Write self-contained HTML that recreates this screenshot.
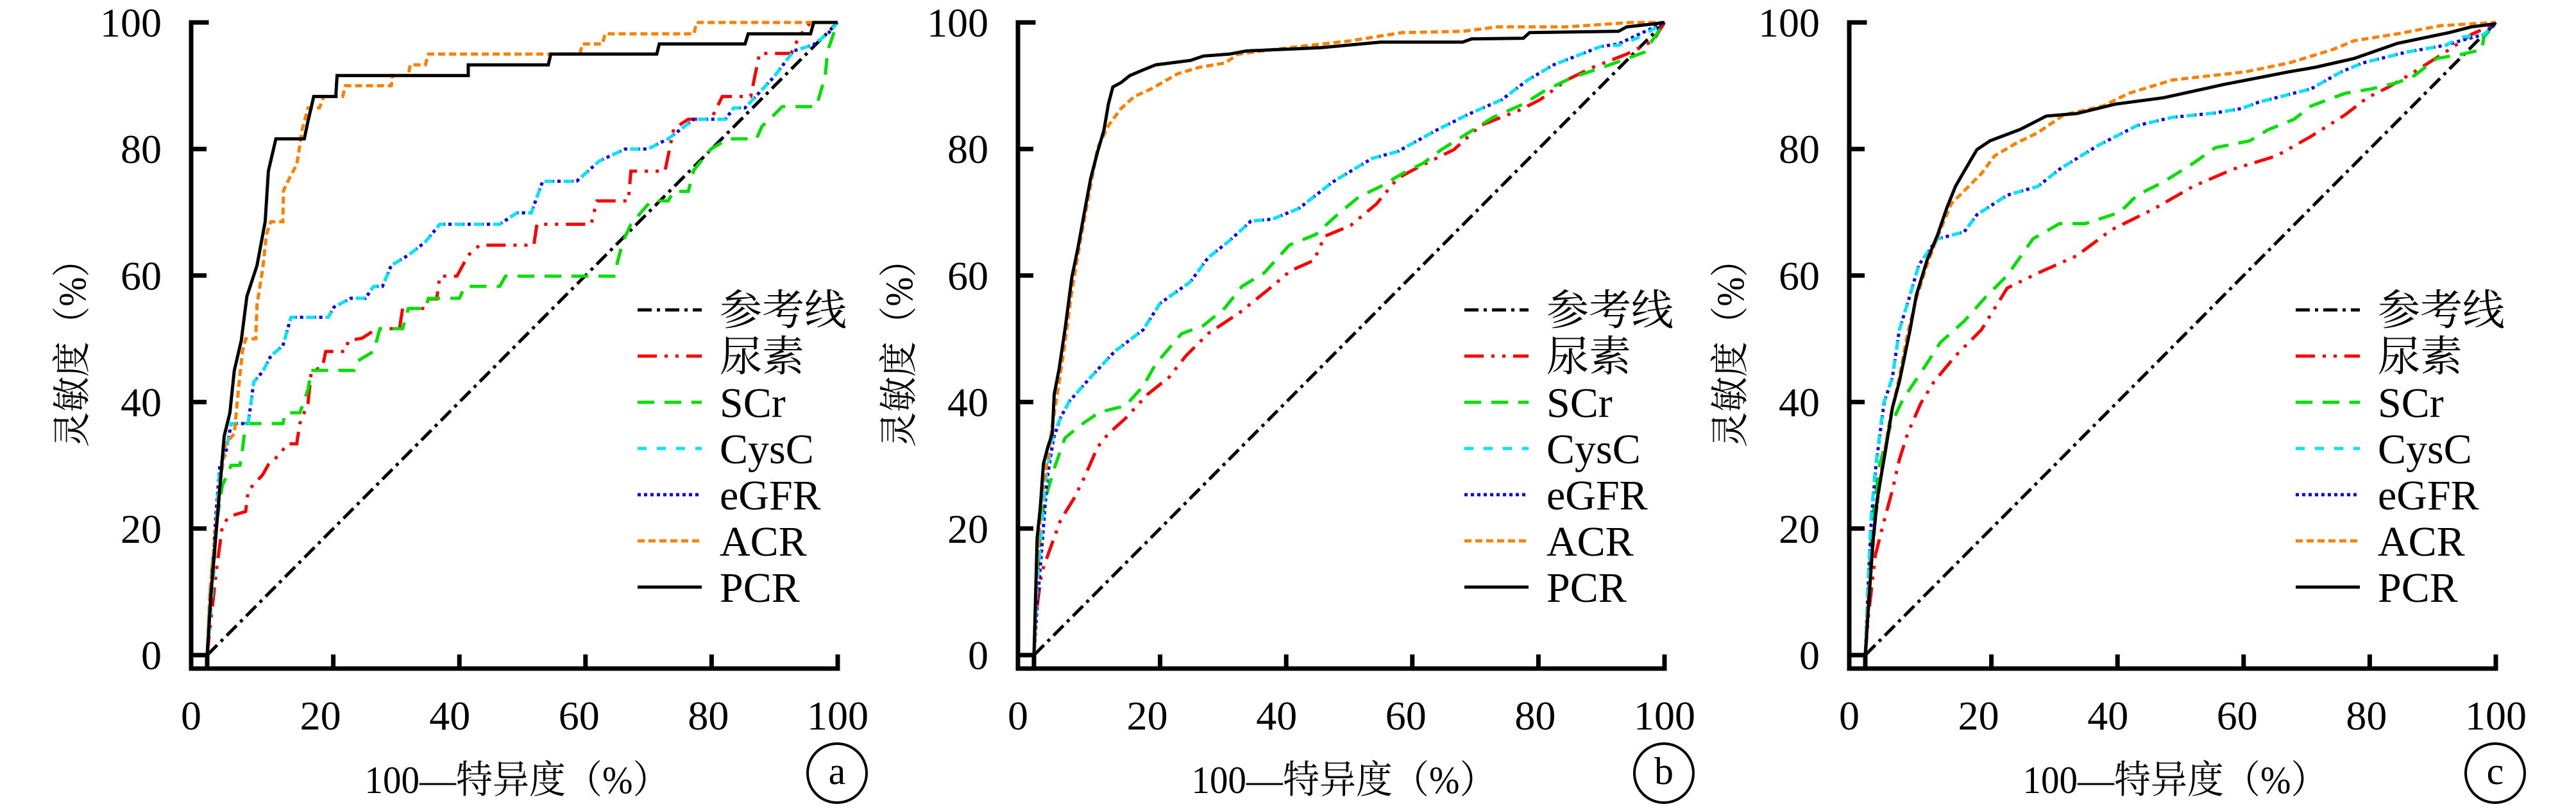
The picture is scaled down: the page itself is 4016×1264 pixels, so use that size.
<!DOCTYPE html>
<html><head><meta charset="utf-8">
<style>
html,body{margin:0;padding:0;background:#fff;}
svg{display:block;}
text{font-family:"Liberation Serif","Noto Serif CJK SC",serif;fill:#000;}
</style></head>
<body>
<svg id="chart" width="4016" height="1264" viewBox="0 0 4016 1264" xmlns="http://www.w3.org/2000/svg"></svg>
<script>
const tickValues = [0,20,40,60,80,100];
const panelLabels = ["a","b","c"];
const seriesNames = ["参考线","尿素","SCr","CysC","eGFR","ACR","PCR"];

const aUrea=[[0,0],[0.6,5.6],[1.5,13.7],[2.4,20.3],[3.4,21.9],[6.1,22.7],[6.5,26],[8.8,28.5],[9.7,30.1],[11.5,31.7],[12.7,33.4],[14.2,33.4],[14.7,36.6],[16,39.9],[16.5,44.8],[18.3,45.6],[18.8,48],[21.9,48],[22.4,49.7],[24.6,50.1],[26.9,51.6],[30.5,51.6],[31,54.8],[34.6,54.8],[35.1,56.3],[36.4,56.3],[36.9,59.9],[39.6,59.9],[41.4,63.2],[43.2,64.8],[51.8,64.8],[52.3,68.1],[60.9,68.1],[61.8,71.8],[66.8,71.8],[67.2,76.5],[72.6,76.5],[74,83.2],[76.3,84.7],[79.9,84.7],[81.7,88.3],[86.2,88.3],[87.6,95.1],[92.6,95.1],[93.9,97.8],[95.7,100],[100,100]];
const aSCr=[[0,0],[0.6,12.1],[1.5,21],[2.4,26.8],[3.8,30],[5.2,30],[5.6,32.5],[6.1,36.6],[12,36.6],[12.4,38.3],[14.7,38.3],[16,42],[16.5,45],[23.3,45],[23.7,46.4],[26.4,48],[27.4,51.6],[31,51.6],[31.9,54.8],[34.6,54.8],[35.1,56.4],[40,56.4],[40.9,58.3],[46.4,58.3],[47.3,59.9],[64.5,59.9],[65.9,65.3],[67.2,68.1],[69,70.2],[70.4,71.8],[73.1,71.8],[74,73.3],[76.3,73.3],[77.2,76.7],[78.5,78.3],[79.9,80],[82.6,81.6],[87.1,81.6],[88,83.6],[89.4,84.9],[91.2,86.7],[96.6,86.7],[98,91.4],[98.4,95.5],[99.4,98.4],[100,100]];
const aCysC=[[0,0],[1.1,13.7],[1.5,21.9],[2,30],[2.9,31.7],[3.8,36.6],[6.5,36.6],[7.4,43.2],[8.8,44.8],[10.1,47.3],[12,48.9],[13.3,53.4],[19.2,53.4],[20.1,55],[22.8,56.4],[25.1,56.4],[26.4,58.3],[27.8,58.3],[29.2,61.6],[31.9,63.2],[34.6,65.3],[36.9,68.1],[46.4,68.1],[49.1,69.9],[51.4,69.9],[53.2,74.9],[58.6,74.9],[62.2,78.1],[66.3,80],[69.9,80],[73.1,81.6],[77.2,84.7],[82.2,84.7],[83.5,86.5],[85.3,86.5],[89.9,91.4],[93,95.5],[96.2,96.5],[98.6,98.4],[100,100]];
const aEGFR=[[0,0],[1,16],[1.4,22.5],[2,30],[2.9,31.7],[3.8,36.6],[6.5,36.6],[7.4,43.2],[8.8,44.8],[10.1,47.3],[12,48.9],[13.3,53.4],[19.2,53.4],[20.1,55],[22.8,56.4],[25.1,56.4],[26.4,58.3],[27.8,58.3],[29.2,61.6],[31.9,63.2],[34.6,65.3],[36.9,68.1],[46.4,68.1],[49.1,69.9],[51.4,69.9],[53.2,74.9],[58.6,74.9],[62.2,78.1],[66.3,80],[69.9,80],[73.1,81.6],[77.2,84.7],[82.2,84.7],[83.5,86.5],[85.3,86.5],[89.9,91.4],[93,95.5],[96.2,96.5],[98.6,98.4],[100,100]];
const aACR=[[0,0],[0.4,9.6],[1.3,19.5],[2,26.8],[2.9,33.4],[4.3,35],[4.9,41.5],[5.6,48],[6.1,50],[7.7,50],[7.9,55.4],[8.8,61],[9.4,66.5],[10.1,68.5],[12,68.5],[12.1,73.4],[13.3,75.9],[14.2,77.5],[15.1,83.2],[16,86.5],[17.8,86.5],[18.5,88.3],[21.5,88.3],[21.9,90],[29.2,90],[29.4,91.6],[31.9,91.6],[32.2,93.3],[34.6,93.3],[35.1,95],[59.1,95],[59.5,96.6],[62.7,96.6],[63.1,98.2],[77.2,98.2],[77.6,100],[100,100]];
const aPCR=[[0,0],[0.6,9.6],[1.5,20.3],[2.7,34.6],[3.6,38.3],[4.3,45],[5.4,49.7],[6.3,56.7],[7.9,61.6],[9.2,68.5],[9.7,76.5],[10.9,81.6],[15.4,81.6],[15.9,84],[16.9,88.3],[20.4,88.3],[20.6,91.6],[41.4,91.6],[41.4,93.3],[54.1,93.3],[54.5,95],[71.3,95],[71.7,96.6],[85.3,96.6],[85.8,98.2],[95.7,98.2],[96.2,100],[100,100]];

const bUrea=[[0,0],[0.3,6.2],[1.2,13],[2.2,15.8],[4.2,21.3],[6.3,24.7],[8,28.1],[10.1,32.9],[11.8,35],[14.5,37.4],[18,41.2],[21.4,43.9],[24.1,47.3],[27.6,50.8],[32.7,54.2],[37.8,58.3],[40.6,60.7],[44.4,62.4],[46.1,66.2],[50.2,67.9],[54.3,71.3],[57.7,75.4],[61.1,77.2],[66.6,79.9],[70.8,83.7],[76.9,86.1],[80.3,87.8],[84.5,90.9],[88.6,92.9],[94,95],[98.2,97.1],[100,100]];
const bSCr=[[0,0],[0.3,8.9],[1.2,21.9],[2.2,26.1],[3.2,29.5],[4.9,34.3],[7.3,36.3],[10.4,38.4],[14.5,39.4],[17.3,42.5],[19.3,46],[23.4,50.8],[26.9,52.1],[30.3,54.9],[33,58.3],[36.5,60.4],[40.5,64.8],[44.7,66.5],[48.1,69.6],[51.5,72.4],[55,74.1],[58.4,76.1],[61.8,77.8],[64.6,79.9],[68,82],[72.8,85],[77.6,87.1],[81,89.2],[85.1,91.2],[91.3,93.3],[96.8,95.3],[100,100]];
const bCysC=[[0,0],[0.5,11],[1.2,19.9],[1.9,28.1],[2.9,34.3],[4,37],[5.6,40.1],[8.7,43.6],[12.8,48],[17.3,51.4],[20,55.6],[24.8,59],[27.6,62.8],[31,65.5],[34.4,68.6],[37.8,68.9],[42,70.6],[47.4,74.8],[53.6,78.5],[57.7,79.6],[63.9,83],[68.7,85.4],[74.2,87.8],[78.3,90.9],[82.4,93.3],[89.9,96.2],[92.7,96.4],[96.1,97.7],[100,100]];
const bEGFR=[[0,0],[0.6,9],[1.4,19],[2.1,28],[3.1,34.3],[4.2,37.5],[5.6,40.1],[8.7,43.6],[12.8,48],[17.3,51.4],[20,55.6],[24.8,59],[27.6,62.8],[31,65.5],[34.4,68.6],[37.8,68.9],[42,70.6],[47.4,74.8],[53.6,78.5],[57.7,79.6],[63.9,83],[68.7,85.4],[74.2,87.8],[78.3,90.9],[82.4,93.3],[89.9,96.2],[92.7,96.6],[96.1,98.2],[100,100]];
const bACR=[[0,0],[0.5,14.4],[1.2,24.7],[2.2,31.5],[2.9,36.3],[4,43.2],[5,50],[6,57.6],[7.3,65.2],[8.7,72.7],[10.1,80.2],[11.8,83.7],[13.8,86.4],[15.9,88.3],[18.6,89.5],[22.8,91.9],[26.2,92.9],[30.3,93.6],[32.4,95],[37.8,95.7],[50.2,97.1],[58.4,98.4],[68,98.6],[73.5,99.3],[84.4,99.3],[94.7,100],[100,100]];
const bPCR=[[0,0],[0.5,18.5],[1,23.3],[1.5,30.2],[2.2,32.9],[2.9,35],[3.2,41.2],[4,45.3],[5,52.1],[6,59.7],[7,64.5],[8,70],[9,75.4],[10.1,79.6],[11.1,83],[11.8,87.1],[12.5,89.8],[13.8,90.5],[15.2,91.6],[17.3,92.5],[19.3,93.3],[24.8,94],[26.9,94.7],[31,95],[33.7,95.5],[45.4,96],[55,96.9],[68,96.9],[69.4,97.4],[77.6,97.5],[78.6,98.4],[92.7,98.6],[94,99.3],[98.5,99.8],[100,100]];

const cUrea=[[0,0],[0.5,6.2],[1.6,15.8],[3,21.3],[4.3,26.1],[5.4,30.9],[6.7,35],[8.8,39.8],[10.9,43.2],[14.3,47.3],[18.4,51.4],[22.5,58],[27.4,60.4],[33.5,63.1],[39,67.2],[45.9,70.6],[52,74.1],[58.3,76.8],[65.2,78.9],[70.7,82],[76.1,85.4],[79.6,88.1],[83,89.8],[87.1,92.2],[92.6,95.7],[96.1,98.1],[100,99.8]];
const cSCr=[[0,0],[0.4,7.5],[1.1,21.3],[2.3,30.2],[4,36.3],[6,40.5],[8.8,44.6],[11.9,49.4],[15.7,52.8],[19.1,56.6],[22.5,60],[26.6,65.8],[30.8,68.2],[34.9,68.2],[40.4,70],[43.1,72.7],[47.3,74.8],[52.1,77.8],[55.5,80.2],[61,81.3],[63.8,83],[68,84.7],[70.7,86.8],[76.1,88.8],[80.3,89.5],[84.4,90.5],[87.1,91.6],[90.6,94.3],[94.7,95],[97.8,95.7],[98.1,97.7],[100,99.8]];
const cCysC=[[0,0],[0.4,11],[0.9,21.3],[1.6,29.5],[2.3,35],[2.9,39.8],[4.3,43.9],[5.4,51.4],[7.1,56.9],[8.5,61.7],[10.5,64.5],[11.5,65.8],[15.7,66.9],[17.7,69.6],[22.5,72.7],[27.4,74.1],[30.8,76.8],[34.2,78.9],[37,80.6],[43.1,83.7],[48.7,85],[55.5,85.7],[59.7,86.4],[62.4,87.4],[70.7,89.5],[75.5,92.2],[78.9,93.6],[85.8,95.3],[92,96.4],[94.7,97.7],[98.1,98.1],[100,99.8]];
const cEGFR=[[0,0],[0.5,12],[1,22],[1.7,30],[2.4,35.5],[3,40],[4.3,43.9],[5.4,51.4],[7.1,56.9],[8.5,61.7],[10.5,64.5],[11.5,65.8],[15.7,66.9],[17.7,69.6],[22.5,72.7],[27.4,74.1],[30.8,76.8],[34.2,78.9],[37,80.6],[43.1,83.7],[48.7,85],[55.5,85.7],[59.7,86.4],[62.4,87.4],[70.7,89.5],[75.5,92.2],[78.9,93.6],[85.8,95.3],[92,96.4],[94.7,97.2],[98.1,98.1],[100,99.8]];
const cACR=[[0,0],[0.5,8.9],[1.6,21.3],[2.6,29.5],[4,37.7],[5.4,43.9],[6.7,50.8],[8.1,56.4],[9.8,61.7],[11.5,66.2],[13.6,71.3],[15.7,73.4],[18.4,76.1],[20.5,78.9],[23.9,80.9],[27.4,82.6],[31.5,85.4],[37.7,86.8],[41.8,88.8],[48.7,90.9],[60.3,92.2],[67.2,93.6],[74.1,95.7],[77.5,97.1],[84.4,98.2],[91.3,99.5],[100,100]];
const cPCR=[[0,0],[0.5,7.5],[1.2,17.8],[1.9,24.7],[3.3,32.9],[4.3,39.1],[5.4,43.2],[7.1,51.4],[8.1,56.9],[9.8,62.4],[11.5,66.5],[12.9,70.6],[14.3,74.1],[15.7,76.5],[17.7,79.9],[19.8,81.3],[24.6,83.1],[28.7,85.2],[33.5,85.6],[39.7,87.1],[47.3,88.1],[56.9,90.2],[67.2,92.2],[71.3,92.9],[77.5,94.3],[84.4,96.7],[92.6,98.4],[96.1,99.3],[100,99.8]];

const refLine=[[0,0],[100,100]];
const panelSeries=[[refLine,aUrea,aSCr,aCysC,aEGFR,aACR,aPCR],[refLine,bUrea,bSCr,bCysC,bEGFR,bACR,bPCR],[refLine,cUrea,cSCr,cCysC,cEGFR,cACR,cPCR]];
const drawOrder=[0,1,2,4,3,5,6];

const NS="http://www.w3.org/2000/svg";
const svg=document.getElementById('chart');
const styles=[
 {c:"#000",d:"22 8 5 8",w:5},
 {c:"#ff0000",d:"30 12 5 12 5 12",w:5},
 {c:"#00e000",d:"26 16",w:5},
 {c:"#00e5ff",d:"14 16",w:5},
 {c:"#0000ff",d:"5 5",w:5},
 {c:"#ff8000",d:"11 6",w:5},
 {c:"#000",d:"",w:5}
];
const keys=["ref","urea","scr","cysc","egfr","acr","pcr"];
const panelX=[298,1587,2883];
function mk(tag,attrs,parent){const e=document.createElementNS(NS,tag);for(const k in attrs)e.setAttribute(k,attrs[k]);(parent||svg).appendChild(e);return e;}

panelSeries.forEach((series,pi)=>{
  const ax=panelX[pi];
  const x0=ax+25, x1=ax+1008, y0=1021, y1=35;
  const sx=v=>x0+(x1-x0)*v/100;
  const sy=v=>y0-(y0-y1)*v/100;
  const g=mk('g',{});
  
  
  drawOrder.forEach(si=>{
    const pts=series[si];
    const st=styles[si];
    const p=mk('polyline',{points:pts.map(q=>sx(q[0]).toFixed(1)+','+sy(q[1]).toFixed(1)).join(' '),fill:'none',stroke:st.c,'stroke-width':st.w,'stroke-dasharray':st.d,'stroke-linejoin':'miter'},g);
    
    
  });
  const ya=mk('path',{d:`M${ax} ${y1} H${ax+24} M${ax} ${y1} V1042 H${x1}`,fill:'none',stroke:'#000','stroke-width':7,'stroke-linecap':'square'},g);
  
  
  tickValues.forEach((t,ti)=>{
    const ty=mk('line',{x1:ax,x2:ax+24,y1:sy(t),y2:sy(t),stroke:'#000','stroke-width':7},g);
    
    
    const tx=mk('line',{x1:sx(t),x2:sx(t),y1:1042,y2:1020,stroke:'#000','stroke-width':7},g);
    
    
    const yl=mk('text',{x:ax-46,y:sy(t)+22,'font-size':64,'text-anchor':'end'},g);
    yl.textContent=t;
    
    
    const xl=mk('text',{x:ax+ti*201.6,y:1137,'font-size':64,'text-anchor':'middle'},g);
    xl.textContent=t;
    
    
  });
  const yt=mk('text',{x:0,y:0,'font-size':60,'text-anchor':'middle',textLength:320,lengthAdjust:'spacingAndGlyphs',transform:`translate(${ax-165},537) rotate(-90)`},g);
  yt.textContent='灵敏度（%）';
  
  
  const xt=mk('text',{x:ax+508,y:1236,'font-size':60,'text-anchor':'middle',textLength:475,lengthAdjust:'spacingAndGlyphs'},g);
  xt.textContent='100—特异度（%）';
  
  
  const cc=mk('circle',{cx:ax+1007,cy:1205,r:46,fill:'none',stroke:'#000','stroke-width':4},g);
  
  
  const ct=mk('text',{x:ax+1007,y:1222,'font-size':60,'text-anchor':'middle'},g);
  ct.textContent=panelLabels[pi];
  
  
  seriesNames.forEach((n,li)=>{
    const ly=483+72*li;
    const st=styles[li];
    const ll=mk('line',{x1:ax+696,x2:ax+796,y1:ly,y2:ly,stroke:st.c,'stroke-width':st.w,'stroke-dasharray':st.d},g);
    
    
    const lt=mk('text',{x:ax+824,y:ly+23,'font-size':66},g);
    lt.textContent=n;
    
    
  });
});
</script>
</body></html>
